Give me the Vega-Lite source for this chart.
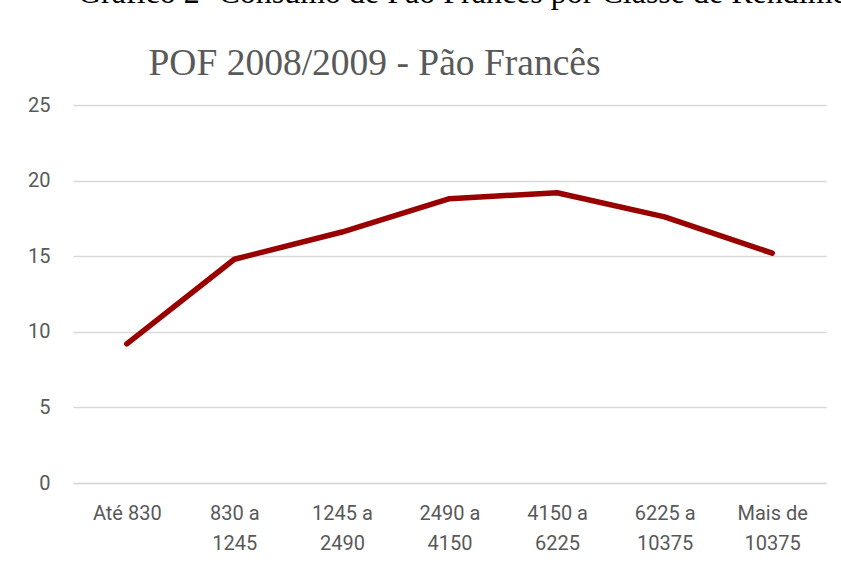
{
  "$schema": "https://vega.github.io/schema/vega-lite/v6.json",
  "width": 753,
  "height": 378,
  "autosize": {"type": "none"},
  "padding": {"left": 73, "top": 105, "right": 15, "bottom": 84},
  "background": "white",
  "title": {
    "text": "Gráfico 2- Consumo de Pão Francês por Classe de Rendimento",
    "anchor": "start",
    "frame": "group",
    "dx": 5,
    "dy": -9,
    "offset": 0,
    "baseline": "alphabetic",
    "font": "Liberation Serif",
    "fontSize": 32,
    "fontWeight": "normal",
    "color": "black"
  },
  "data": {
    "values": [
      {"classe": "Até 830", "consumo": 9.2},
      {"classe": "830 a|1245", "consumo": 14.8},
      {"classe": "1245 a|2490", "consumo": 16.6},
      {"classe": "2490 a|4150", "consumo": 18.8},
      {"classe": "4150 a|6225", "consumo": 19.2},
      {"classe": "6225 a|10375", "consumo": 17.6},
      {"classe": "Mais de|10375", "consumo": 15.2}
    ]
  },
  "mark": {"type": "line", "color": "#990000", "strokeWidth": 5.5, "strokeCap": "round", "strokeJoin": "round"},
  "encoding": {
    "x": {
      "field": "classe",
      "type": "ordinal",
      "sort": null,
      "scale": {"type": "point", "padding": 0.5},
      "axis": {
        "title": null,
        "labelAngle": 0,
        "labelExpr": "split(datum.label, '|')",
        "labelFont": "Roboto",
        "labelFontSize": 20,
        "labelColor": "#595959",
        "labelPadding": 20,
        "labelLineHeight": 30,
        "labelBaseline": "top",
        "ticks": false,
        "domain": true,
        "domainColor": "#d9d9d9",
        "domainWidth": 1.5,
        "grid": false
      }
    },
    "y": {
      "field": "consumo",
      "type": "quantitative",
      "scale": {"domain": [0, 25]},
      "axis": {
        "values": [0, 5, 10, 15, 20, 25],
        "title": "POF 2008/2009 - Pão Francês",
        "titleAngle": 0,
        "titleX": 75,
        "titleY": -31,
        "titleAlign": "left",
        "titleBaseline": "alphabetic",
        "titleFont": "Liberation Serif",
        "titleFontSize": 37.5,
        "titleFontWeight": "normal",
        "titleColor": "#595959",
        "labelFont": "Roboto",
        "labelFontSize": 20,
        "labelColor": "#595959",
        "labelPadding": 23,
        "ticks": false,
        "domain": false,
        "grid": true,
        "gridColor": "#d9d9d9",
        "gridWidth": 1.5
      }
    }
  },
  "config": {"view": {"stroke": null}}
}
